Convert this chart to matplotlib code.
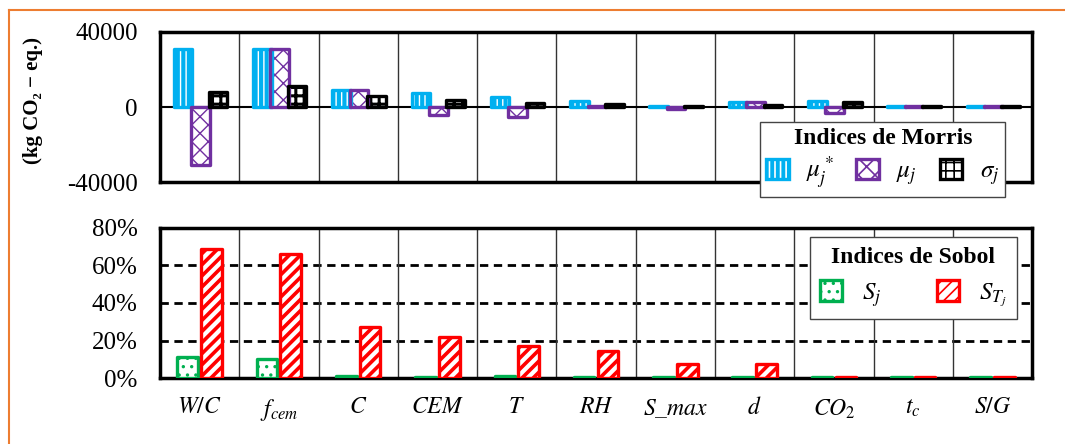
import matplotlib.pyplot as plt
from matplotlib.patches import Patch
from matplotlib.lines import Line2D
from matplotlib.legend_handler import HandlerTuple
import numpy as np

plt.rcParams['font.family'] = ['Liberation Serif', 'DejaVu Serif']
plt.rcParams['mathtext.fontset'] = 'stix'
plt.rcParams['hatch.linewidth'] = 1.2

# Parameters
labels = [r'$W/C$', r'$f_{cem}$', r'$C$', r'$CEM$', r'$T$', r'$RH$',
          r'$S\_max$', r'$d$', r'$CO_2$', r'$t_c$', r'$S/G$']

# Morris indices (kg CO2-eq.)
mu_star = [31000, 31000, 9000, 7500, 5500, 3000, 700, 2500, 3000, 400, 400]
mu = [-31000, 31000, 9000, -4000, -5500, 500, -1200, 2500, -3000, 400, 400]
sigma = [8000, 11000, 6000, 4000, 2000, 1500, 700, 1200, 2500, 400, 400]

# Sobol indices (%)
s_first = [11, 10, 1, 0.5, 1, 0.5, 0.5, 0.5, 0.3, 0.5, 0.5]
s_total = [69, 66, 27, 22, 17, 14.5, 7.5, 7.5, 0.5, 0.5, 0.5]

cyan = '#00B0F0'
purple = '#7030A0'
green = '#00B050'
red = '#FF0000'
orange = '#ED7D31'

x = np.arange(len(labels))

fig = plt.figure(figsize=(10.65, 4.44), dpi=100)
ax1 = fig.add_axes([0.1502, 0.590, 0.819, 0.338])
ax2 = fig.add_axes([0.1502, 0.1486, 0.819, 0.338])


def hatched_bar(ax, xpos, vals, width, face, hcolor, hatch, edge, lw=2.4, hlw=1.2):
    # face + hatch first, then a thick rounded outline on top
    fills = ax.bar(xpos, vals, width, color=face, edgecolor=hcolor, hatch=hatch,
                   linewidth=0, zorder=3)
    bars = ax.bar(xpos, vals, width, fill=False, edgecolor=edge,
                  linewidth=lw, zorder=4)
    for b in bars:
        b.set_joinstyle('round')
    face_p = Patch(facecolor=face, edgecolor=hcolor, hatch=hatch, linewidth=0)
    edge_p = Patch(fill=False, edgecolor=edge, linewidth=lw, joinstyle='round')
    for p in list(fills) + [face_p]:
        if hasattr(p, 'set_hatch_linewidth'):
            p.set_hatch_linewidth(hlw)
    return (face_p, edge_p)


# ---- top panel: Morris
w = 0.235
h_mus = hatched_bar(ax1, x - 0.21, mu_star, w, cyan, 'white', '|||', cyan, hlw=1.0)
h_mu = hatched_bar(ax1, x + 0.01, mu, w, 'white', purple, 'xx', purple, hlw=1.0)
h_sig = hatched_bar(ax1, x + 0.23, sigma, w, 'white', 'black', '++', 'black', hlw=2.2)

ax1.set_ylim(-40000, 40000)
ax1.set_yticks([-40000, 0, 40000])
ax1.set_yticklabels(['-40000', '0', '40000'])
ax1.axhline(0, color='black', lw=1.5, zorder=2)

# ---- bottom panel: Sobol
w2 = 0.26
h_sj = hatched_bar(ax2, x - 0.15, s_first, w2, 'white', green, '..', green, hlw=1.2)
h_st = hatched_bar(ax2, x + 0.15, s_total, w2, 'white', red, '///', red, hlw=2.6)

ax2.set_ylim(0, 80)
ax2.set_yticks([0, 20, 40, 60, 80])
ax2.set_yticklabels(['0%', '20%', '40%', '60%', '80%'])
for yv in [20, 40, 60]:
    ax2.axhline(yv, color='black', lw=2, ls=(0, (3, 2)), zorder=1)

for ax in (ax1, ax2):
    ax.set_xlim(-0.5, len(labels) - 0.5)
    for k in range(1, len(labels)):
        ax.axvline(k - 0.5, color='#333333', lw=1, zorder=1)
    for s in ax.spines.values():
        s.set_linewidth(2.5)
    ax.tick_params(length=0, labelsize=18, pad=16)
    ax.set_xticks(x)

ax1.set_xticklabels([])
ax2.set_xticklabels(labels, fontsize=17)
ax2.tick_params(axis='x', pad=14)

fig.text(33 / 1065, 1 - 100 / 444, '(kg CO₂ − eq.)', rotation=90,
         ha='center', va='center', fontsize=15, fontweight='bold')

# legends
leg1 = ax1.legend([h_mus, h_mu, h_sig],
                  [r'$\mu_j^*$', r'$\mu_j$', r'$\sigma_j$'],
                  handler_map={tuple: HandlerTuple(ndivide=1)},
                  title='Indices de Morris', ncol=3, loc='upper left',
                  bbox_to_anchor=(0.688, 0.40), borderaxespad=0,
                  fontsize=18, handlelength=0.9, handleheight=0.9,
                  columnspacing=0.9, handletextpad=0.7, fancybox=False,
                  edgecolor='#444444', framealpha=1, borderpad=0.25,
                  labelspacing=0.2)
leg1.get_title().set_fontweight('bold')
leg1.get_title().set_fontsize(17)
leg1.get_frame().set_linewidth(1)
leg1.set_zorder(10)

leg2 = ax2.legend([h_sj, h_st], [r'$S_j$', r'$S_{T_j}$'],
                  handler_map={tuple: HandlerTuple(ndivide=1)},
                  title='Indices de Sobol', ncol=2, loc='upper left',
                  bbox_to_anchor=(0.745, 0.94), borderaxespad=0,
                  fontsize=18, handlelength=0.9, handleheight=0.9,
                  columnspacing=2.2, handletextpad=0.8, fancybox=False,
                  edgecolor='#444444', framealpha=1, borderpad=0.4)
leg2.get_title().set_fontweight('bold')
leg2.get_title().set_fontsize(17)
leg2.get_frame().set_linewidth(1)
leg2.set_zorder(10)

# orange slide frame
fig.add_artist(Line2D([9 / 1065, 1], [1 - 10 / 444] * 2, color=orange,
                      lw=1.5, transform=fig.transFigure))
fig.add_artist(Line2D([9 / 1065] * 2, [0, 1 - 10 / 444], color=orange,
                      lw=1.5, transform=fig.transFigure))

fig.savefig('out.png', dpi=100)
